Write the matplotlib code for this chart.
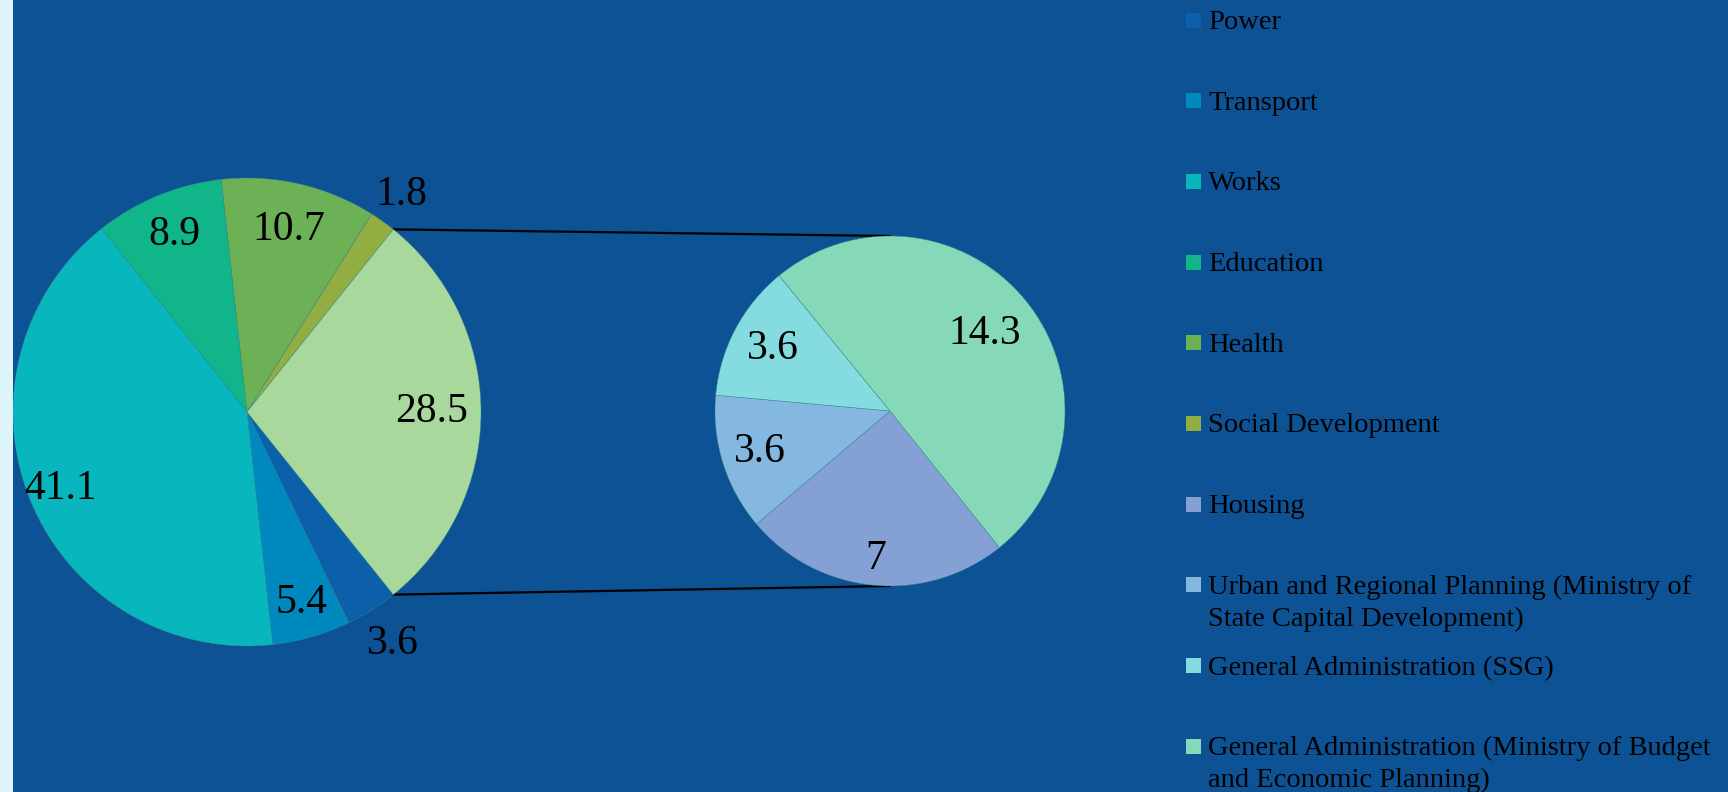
import numpy as np
import matplotlib.pyplot as plt
from matplotlib.patches import Rectangle

# main pie (last slice = "other", split in the second pie)
main_labels = ['Power', 'Transport', 'Works', 'Education', 'Health',
               'Social Development']
main_values = [3.6, 5.4, 41.1, 8.9, 10.7, 1.8]
main_colors = ['#0B60A9', '#0089BF', '#08B7BE', '#10B68A', '#6DB156', '#92AD41']
other_color = '#A8D89B'

# second pie
sub_labels = ['Housing',
              'Urban and Regional Planning (Ministry of\nState Capital Development)',
              'General Administration (SSG)',
              'General Administration (Ministry of Budget\nand Economic Planning)']
sub_values = [7, 3.6, 3.6, 14.3]
sub_colors = ['#85A0D5', '#85B8E0', '#85DCE0', '#85D9B9']

BG = '#0D5294'
plt.rcParams['font.family'] = ['Liberation Serif', 'DejaVu Serif']

W, H = 1728, 792
fig = plt.figure(figsize=(W / 100, H / 100), dpi=100, facecolor=BG)
ax = fig.add_axes([0, 0, 1, 1])

# light strip on the left
fig.patches.append(Rectangle((0, 0), 13 / W, 1, transform=fig.transFigure,
                             facecolor='#DDF4F8', edgecolor='none'))

vals1 = main_values + [sum(sub_values)]
cols1 = main_colors + [other_color]
c1, r1 = (247, 380), 234
c2, r2 = (890, 381), 175
start = -51.3

w1, _ = ax.pie(vals1, colors=cols1, startangle=start, counterclock=False,
               center=c1, radius=r1, frame=True,
               wedgeprops=dict(edgecolor='#3a8a8a', linewidth=0.3))
w2, _ = ax.pie(sub_values, colors=sub_colors, startangle=start, counterclock=False,
               center=c2, radius=r2, frame=True,
               wedgeprops=dict(edgecolor='#3a8a8a', linewidth=0.3))
ax.set_xlim(0, W)
ax.set_ylim(0, H)
ax.set_aspect('equal')
ax.axis('off')


# 数值标签
def put_labels(wedges, values, center, radius, dists):
    for w, v, d in zip(wedges, values, dists):
        a = np.deg2rad((w.theta1 + w.theta2) / 2)
        x = center[0] + d * radius * np.cos(a)
        y = center[1] + d * radius * np.sin(a)
        ax.text(x, y, f'{v:g}', ha='center', va='center', fontsize=30,
                color='black')


put_labels(w1, vals1, c1, r1, [1.17, 0.85, 0.86, 0.82, 0.8, 1.14, 0.79])
put_labels(w2, sub_values, c2, r2, [0.85, 0.78, 0.76, 0.7])

# connector lines from the "other" slice to the second pie
ow = w1[-1]
for ang, dy in [(ow.theta2, r2), (ow.theta1, -r2)]:
    a = np.deg2rad(ang)
    x0 = c1[0] + r1 * np.cos(a)
    y0 = c1[1] + r1 * np.sin(a)
    ax.plot([x0, c2[0]], [y0, c2[1] + dy], color='black', lw=1.6, zorder=0)

# legend
leg_labels = main_labels + sub_labels
leg_colors = main_colors + sub_colors
for i, (lab, col) in enumerate(zip(leg_labels, leg_colors)):
    yc = H - (20 + i * 80.7)
    fig.patches.append(Rectangle((1186 / W, (yc - 7.5) / H), 15 / W, 15 / H,
                                 transform=fig.transFigure, facecolor=col,
                                 edgecolor='none'))
    fig.text(1208 / W, (yc + 10) / H, lab, ha='left', va='top',
             fontsize=20.5, color='black', linespacing=1.35)

fig.savefig('out.png', dpi=100, facecolor=BG)
